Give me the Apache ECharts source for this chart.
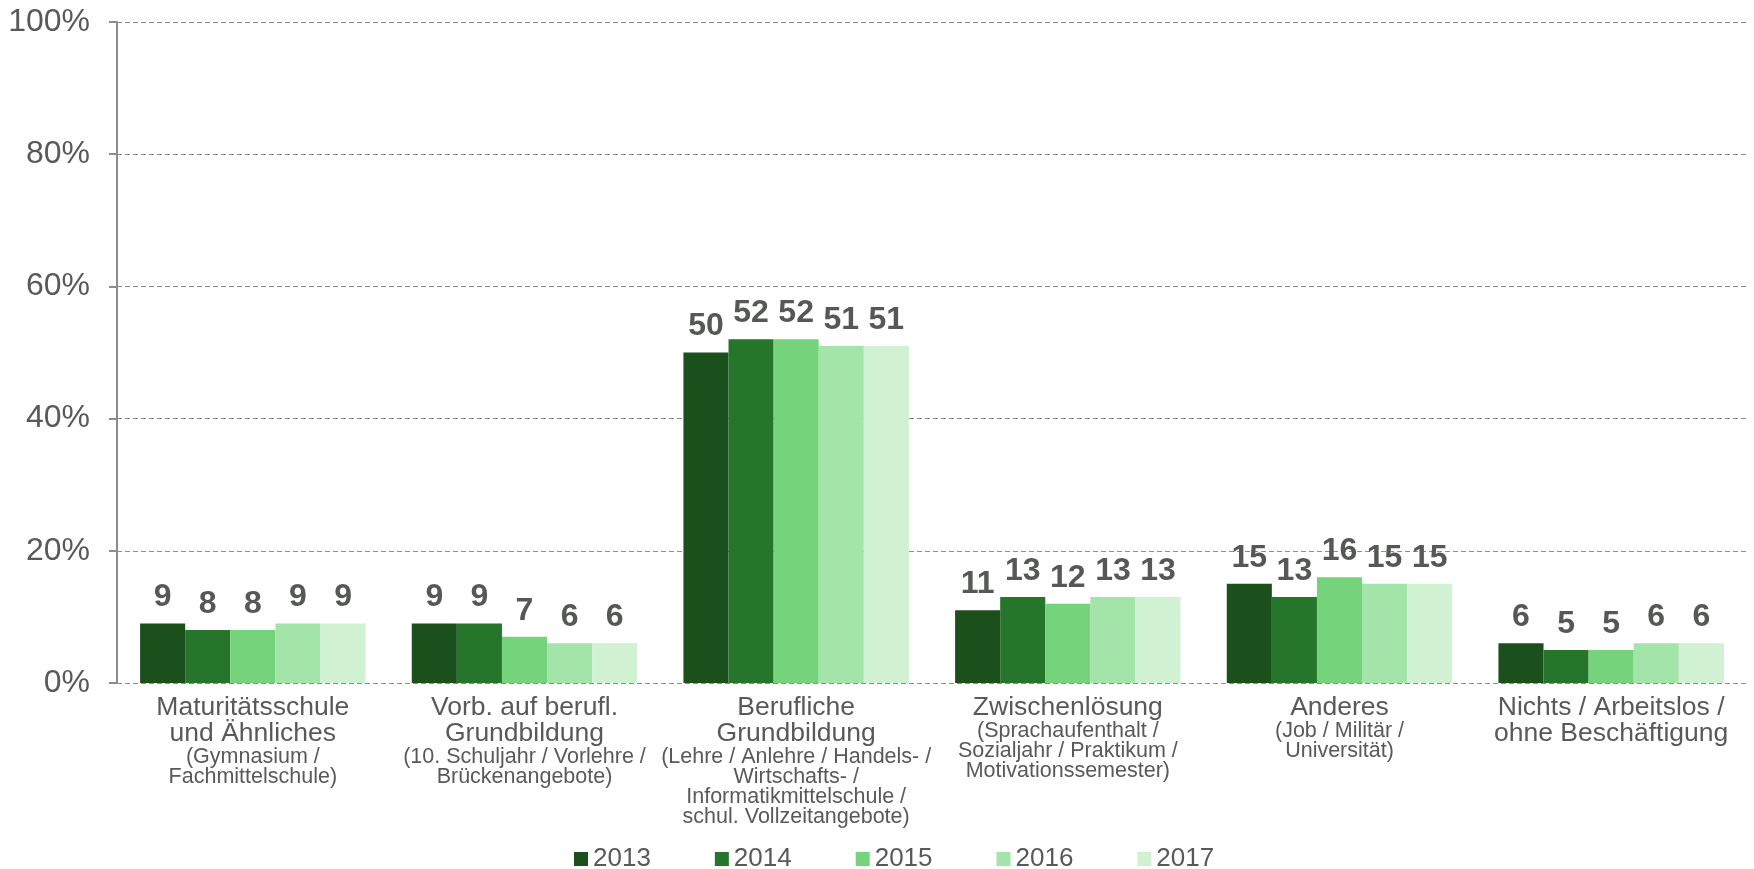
<!DOCTYPE html>
<html>
<head>
<meta charset="utf-8">
<script src="https://cdn.jsdelivr.net/npm/echarts@6/dist/echarts.min.js"></script>
<style>
  html, body { margin: 0; padding: 0; background: #fff; }
  #chart { width: 1754px; height: 869px; }
</style>
</head>
<body>
<div id="chart"></div>
<script>
// categories: main label + small sub label
var catMain = ['Maturitätsschule\nund Ähnliches', 'Vorb. auf berufl.\nGrundbildung', 'Berufliche\nGrundbildung', 'Zwischenlösung', 'Anderes', 'Nichts / Arbeitslos /\nohne Beschäftigung'];
var catSub = ['(Gymnasium /\nFachmittelschule)', '(10. Schuljahr / Vorlehre /\nBrückenangebote)', '(Lehre / Anlehre / Handels- /\nWirtschafts- /\nInformatikmittelschule /\nschul. Vollzeitangebote)', '(Sprachaufenthalt /\nSozialjahr / Praktikum /\nMotivationssemester)', '(Job / Militär /\nUniversität)', ''];

var years = ['2013', '2014', '2015', '2016', '2017'];
var v2013 = [9, 9, 50, 11, 15, 6];
var v2014 = [8, 9, 52, 13, 13, 5];
var v2015 = [8, 7, 52, 12, 16, 5];
var v2016 = [9, 6, 51, 13, 15, 6];
var v2017 = [9, 6, 51, 13, 15, 6];
var yTicks = [0, 20, 40, 60, 80, 100];

var colors = ['#1b4f1c', '#25762b', '#75d37b', '#a3e4a8', '#d1f1d3'];
var values = [v2013, v2014, v2015, v2016, v2017];
var font = 'Liberation Sans, Arial, sans-serif';

var chart = echarts.init(document.getElementById('chart'));

var series = years.map(function (y, i) {
  return {
    name: y,
    type: 'bar',
    data: values[i],
    barGap: 0,
    barCategoryGap: '17%',
    itemStyle: { color: colors[i] },
    label: {
      show: true,
      position: 'top',
      distance: 10,
      color: '#555855',
      fontFamily: font,
      fontWeight: 'bold',
      fontSize: 32
    }
  };
});

var option = {
  animation: false,
  color: colors,
  grid: { left: 117, right: 7, top: 22, bottom: 186 },
  legend: {
    data: years,
    left: 574,
    top: 846,
    padding: 0,
    itemWidth: 14,
    itemHeight: 14,
    itemGap: 64,
    icon: 'rect',
    textStyle: { color: '#595959', fontSize: 26, lineHeight: 26, fontFamily: font }
  },
  xAxis: {
    type: 'category',
    data: catMain,
    axisLine: { show: false },
    axisTick: { show: false },
    axisLabel: {
      interval: 0,
      margin: 12,
      formatter: function (val, idx) {
        var parts = val.split('\n').map(function (l) { return '{m|' + l + '}'; });
        if (catSub[idx]) {
          catSub[idx].split('\n').forEach(function (l) { parts.push('{s|' + l + '}'); });
        }
        return parts.join('\n');
      },
      rich: {
        m: { fontSize: 26.5, lineHeight: 26, color: '#595959', fontFamily: font },
        s: { fontSize: 21.5, lineHeight: 20, color: '#595959', fontFamily: font }
      }
    }
  },
  yAxis: {
    type: 'value',
    min: yTicks[0],
    max: yTicks[yTicks.length - 1],
    interval: 20,
    axisLine: { show: true, lineStyle: { color: '#8c8c8c', width: 2 } },
    axisTick: { show: true, length: 8, lineStyle: { color: '#8c8c8c', width: 2 } },
    axisLabel: {
      margin: 27,
      color: '#595959',
      fontSize: 32,
      fontFamily: font,
      formatter: '{value}%'
    },
    splitLine: { lineStyle: { color: '#8c8c8c', type: [5, 3], width: 1 } }
  },
  series: series
};

chart.setOption(option);
</script>
</body>
</html>
